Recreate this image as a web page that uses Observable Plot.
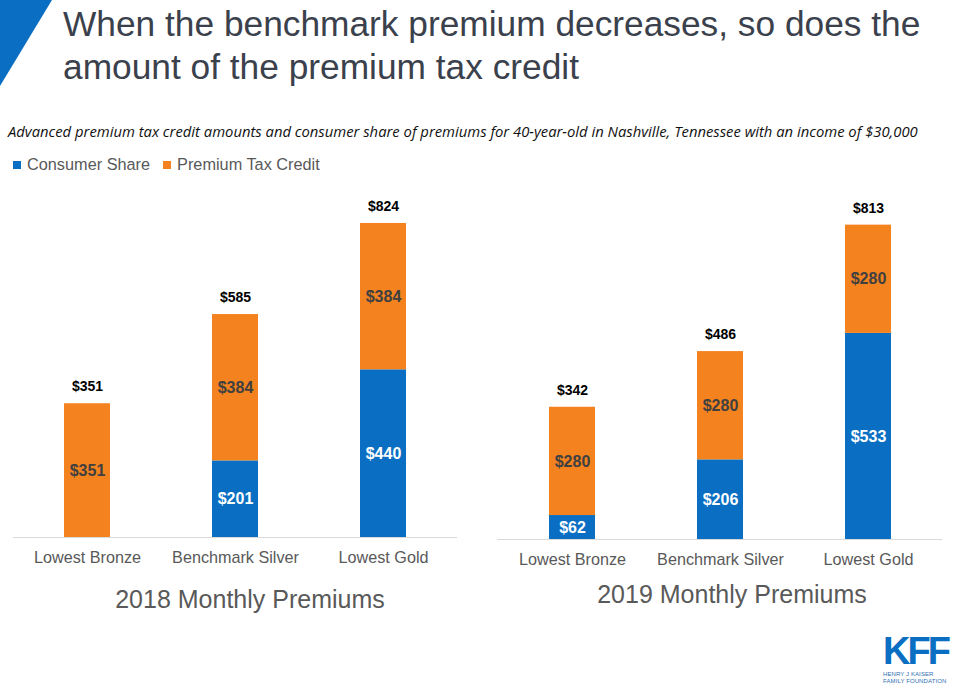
<!DOCTYPE html>
<html>
<head>
<meta charset="utf-8">
<script src="https://cdn.jsdelivr.net/npm/d3@7"></script>
<script src="https://cdn.jsdelivr.net/npm/@observablehq/plot@0.6"></script>
<style>
  html, body { margin: 0; padding: 0; background: #fff; }
  #page { position: relative; width: 967px; height: 690px; overflow: hidden; font-family: "Liberation Sans", Arial, sans-serif; }
  #tri { position: absolute; left: 0; top: 0; width: 52px; height: 86px; background: #0a6fc2; clip-path: polygon(0 0, 100% 0, 0 100%); }
  #title { position: absolute; left: 63px; top: 2px; font-size: 35.3px; line-height: 43px; color: #3b414c; }
  #subtitle { position: absolute; left: 8px; top: 121px; font-family: "Open Sans", sans-serif; font-style: italic; font-size: 14.8px; color: #111; white-space: nowrap; }
  #legend { position: absolute; left: 13px; top: 155px; font-size: 16.3px; color: #595959; display: flex; gap: 13px; }
  #legend span.sw { display: inline-block; width: 8px; height: 8px; margin-right: 6px; vertical-align: 1px; }
  .panel { position: absolute; top: 190px; }
  .year { position: absolute; font-size: 25px; color: #595959; transform: translateX(-50%); white-space: nowrap; }
  #kff { position: absolute; left: 883px; top: 631px; color: #0a6fc2; }
  #kff .big { font-size: 38px; font-weight: bold; letter-spacing: -3px; line-height: 40px; }
  #kff .small { font-size: 6px; line-height: 7px; color: #2f6fb5; letter-spacing: 0.1px; }
</style>
</head>
<body>
<div id="page">
  <div id="tri"></div>
  <div id="title">When the benchmark premium decreases, so does the<br>amount of the premium tax credit</div>
  <div id="subtitle">Advanced premium tax credit amounts and consumer share of premiums for 40-year-old in Nashville, Tennessee with an income of $30,000</div>
  <div id="legend">
    <div><span class="sw" style="background:#0a6fc2"></span>Consumer Share</div>
    <div><span class="sw" style="background:#f4831f"></span>Premium Tax Credit</div>
  </div>
  <div id="left" class="panel" style="left:0px"></div>
  <div id="right" class="panel" style="left:484px"></div>
  <div class="year" style="left:250px; top:585px">2018 Monthly Premiums</div>
  <div class="year" style="left:732px; top:580px">2019 Monthly Premiums</div>
  <div id="kff"><div class="big">KFF</div><div class="small">HENRY J KAISER<br>FAMILY FOUNDATION</div></div>
</div>
<script>
const categories = ["Lowest Bronze", "Benchmark Silver", "Lowest Gold"];
const seriesNames = ["Consumer Share", "Premium Tax Credit"];
const seriesColors = ["#0a6fc2", "#f4831f"];
const consumer2018 = [0, 201, 440];
const credit2018 = [351, 384, 384];
const consumer2019 = [62, 206, 533];
const credit2019 = [280, 280, 280];

function rowsFor(consumer, credit) {
  const rows = [];
  categories.forEach((c, i) => rows.push({category: c, series: seriesNames[0], value: consumer[i]}));
  categories.forEach((c, i) => rows.push({category: c, series: seriesNames[1], value: credit[i]}));
  return rows;
}
function totalsFor(consumer, credit) {
  return categories.map((c, i) => ({category: c, total: consumer[i] + credit[i]}));
}

function panel(consumer, credit, marginTop, marginBottom, plotHeight, marginRight) {
  const rows = rowsFor(consumer, credit);
  const totals = totalsFor(consumer, credit);
  const stackOpts = {x: "category", y: "value", order: null};
  return Plot.plot({
    width: 480,
    height: marginTop + plotHeight + marginBottom,
    marginTop, marginBottom, marginLeft: 13, marginRight,
    style: {fontFamily: "Liberation Sans, Arial, sans-serif", fontSize: "16.2px", color: "#595959", overflow: "visible", background: "transparent"},
    x: {domain: categories, paddingInner: 0.69, paddingOuter: 0.345, tickSize: 0, tickPadding: 14, label: null},
    y: {domain: [0, 900], axis: null},
    color: {domain: seriesNames, range: seriesColors},
    marks: [
      Plot.barY(rows, Plot.stackY({...stackOpts, fill: "series"})),
      Plot.ruleY([0], {stroke: "#d9d9d9", strokeWidth: 1}),
      Plot.text(rows, Plot.stackY({...stackOpts, text: d => d.series === seriesNames[0] && d.value > 0 ? "$" + d.value : null, fill: "white", fontWeight: "bold", fontSize: 16})),
      Plot.text(rows, Plot.stackY({...stackOpts, text: d => d.series === seriesNames[1] && d.value > 0 ? "$" + d.value : null, fill: "#404040", fontWeight: "bold", fontSize: 16})),
      Plot.text(totals, {x: "category", y: "total", text: d => "$" + d.total, dy: -17, fill: "#000", fontWeight: "bold", fontSize: 14})
    ]
  });
}

document.getElementById("left").appendChild(panel(consumer2018, credit2018, 4, 45, 343, 23));
document.getElementById("right").appendChild(panel(consumer2019, credit2019, 1, 45, 348, 22));
</script>
</body>
</html>
